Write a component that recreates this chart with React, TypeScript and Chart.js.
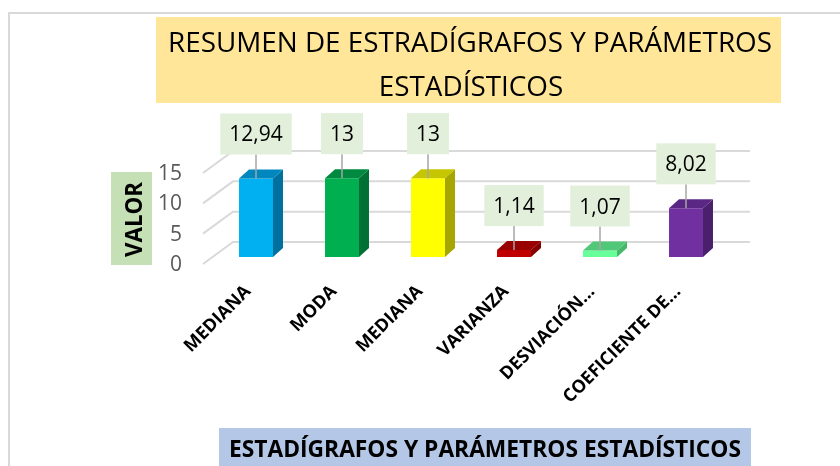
import React, { useEffect, useRef } from "react";
import { Chart, registerables } from "chart.js";

Chart.register(...registerables);

// ---- data ----
const categories = ["MEDIANA", "MODA", "MEDIANA", "VARIANZA", "DESVIACIÓN…", "COEFICIENTE DE…"];
const values = [12.94, 13, 13, 1.14, 1.07, 8.02];
const yTicks = [0, 5, 10, 15];
const titleLines = ["RESUMEN DE ESTRADÍGRAFOS Y PARÁMETROS", "ESTADÍSTICOS"];
const xTitle = "ESTADÍGRAFOS Y PARÁMETROS ESTADÍSTICOS";
const yTitle = "VALOR";

// ---- styles ----
const frontColors = ["#00B0F0", "#00B050", "#FFFF00", "#C00000", "#66FF99", "#7030A0"];
const sideColors = ["#00709E", "#007034", "#A6A600", "#820000", "#45B86A", "#4A1F6B"];
const topColors = ["#0088BE", "#008A3F", "#C6C600", "#990000", "#50C878", "#5A2884"];
const FONT = "'Open Sans', 'Noto Sans', sans-serif";
const DEPTH_X = 10;
const DEPTH_Y = 9;

function fmt(v: number): string {
  return String(v).replace(".", ",");
}

function fitScale(ctx: CanvasRenderingContext2D, text: string, font: string, target: number): number {
  ctx.font = font;
  const w = ctx.measureText(text).width;
  const s = target / w;
  return Math.max(0.8, Math.min(1.2, s));
}

function drawScaled(ctx: CanvasRenderingContext2D, text: string, cx: number, y: number, s: number, font: string) {
  ctx.save();
  ctx.font = font;
  ctx.translate(cx, y);
  ctx.scale(s, 1);
  ctx.textAlign = "center";
  ctx.textBaseline = "alphabetic";
  ctx.fillText(text, 0, 0);
  ctx.restore();
}

const decorPlugin = {
  id: "decor",
  beforeDraw(chart: any) {
    const ctx: CanvasRenderingContext2D = chart.ctx;
    ctx.save();
    ctx.fillStyle = "#ffffff";
    ctx.fillRect(0, 0, chart.width, chart.height);
    // outer frame
    ctx.strokeStyle = "#d9d9d9";
    ctx.lineWidth = 2;
    ctx.strokeRect(9, 13, 1000, 1000);

    // title box
    ctx.fillStyle = "#FFE699";
    ctx.fillRect(156, 17, 625, 86);
    ctx.fillStyle = "#000000";
    const tFont = `28px ${FONT}`;
    const ts = fitScale(ctx, titleLines[0], tFont, 604);
    drawScaled(ctx, titleLines[0], 470, 52, ts, tFont);
    drawScaled(ctx, titleLines[1], 471, 96, ts, tFont);

    // y title
    ctx.fillStyle = "#C5E0B4";
    ctx.fillRect(111, 172, 41, 93);
    ctx.fillStyle = "#000000";
    const yFont = `bold 23px ${FONT}`;
    const ys = fitScale(ctx, yTitle, yFont, 75);
    ctx.save();
    ctx.translate(142, 219.5);
    ctx.rotate(-Math.PI / 2);
    drawScaled(ctx, yTitle, 0, 0, ys, yFont);
    ctx.restore();

    // x title
    ctx.fillStyle = "#B4C7E7";
    ctx.fillRect(219, 428, 532, 50);
    ctx.fillStyle = "#000000";
    const xFont = `bold 24px ${FONT}`;
    const xs = fitScale(ctx, xTitle, xFont, 512);
    drawScaled(ctx, xTitle, 485, 457, xs, xFont);
    ctx.restore();
  },
  beforeDatasetsDraw(chart: any) {
    const ctx: CanvasRenderingContext2D = chart.ctx;
    const y = chart.scales.y;
    const area = chart.chartArea;
    ctx.save();
    ctx.strokeStyle = "#d9d9d9";
    ctx.lineWidth = 2;
    const fx = area.left - 10;
    const bx = area.left + 20;
    const ex = area.right + 21;
    yTicks.forEach((v) => {
      const fy = y.getPixelForValue(v) + 7;
      const by = fy - 22;
      ctx.beginPath();
      ctx.moveTo(fx, fy);
      ctx.lineTo(bx, by);
      ctx.lineTo(ex, by);
      ctx.stroke();
    });
    ctx.restore();
  },
  afterDatasetsDraw(chart: any) {
    const ctx: CanvasRenderingContext2D = chart.ctx;
    const meta = chart.getDatasetMeta(0);
    ctx.save();
    meta.data.forEach((el: any, i: number) => {
      const { x, y, base, width } = el.getProps(["x", "y", "base", "width"], true);
      const l = x - width / 2;
      const r = x + width / 2;
      // side face
      ctx.fillStyle = sideColors[i];
      ctx.beginPath();
      ctx.moveTo(r, y);
      ctx.lineTo(r + DEPTH_X, y - DEPTH_Y);
      ctx.lineTo(r + DEPTH_X, base - DEPTH_Y);
      ctx.lineTo(r, base);
      ctx.closePath();
      ctx.fill();
      // top face
      ctx.fillStyle = topColors[i];
      ctx.beginPath();
      ctx.moveTo(l, y);
      ctx.lineTo(l + DEPTH_X, y - DEPTH_Y);
      ctx.lineTo(r + DEPTH_X, y - DEPTH_Y);
      ctx.lineTo(r, y);
      ctx.closePath();
      ctx.fill();

      // data label
      const text = fmt(values[i]);
      ctx.font = `21px ${FONT}`;
      const tw = ctx.measureText(text).width;
      const bw = tw + 18;
      const bh = 41;
      const boxBottom = y - 24;
      const boxTop = boxBottom - bh;
      ctx.strokeStyle = "#a6a6a6";
      ctx.lineWidth = 1.5;
      ctx.beginPath();
      ctx.moveTo(x, boxBottom);
      ctx.lineTo(x, y);
      ctx.stroke();
      ctx.fillStyle = "#E2EFDA";
      ctx.fillRect(x - bw / 2, boxTop, bw, bh);
      ctx.fillStyle = "#000000";
      ctx.textAlign = "center";
      ctx.textBaseline = "alphabetic";
      ctx.fillText(text, x, boxTop + bh / 2 + 7.5);
    });
    ctx.restore();
  },
};

export default function App() {
  const ref = useRef<HTMLCanvasElement | null>(null);

  useEffect(() => {
    if (!ref.current) return;
    const chart = new Chart(ref.current, {
      type: "bar",
      data: {
        labels: categories,
        datasets: [
          {
            data: values,
            backgroundColor: frontColors,
            borderWidth: 0,
            barPercentage: 0.395,
            categoryPercentage: 1,
          },
        ],
      },
      options: {
        animation: false,
        responsive: false,
        devicePixelRatio: 1,
        layout: { padding: { left: 113, right: 111, top: 166, bottom: 9 } },
        plugins: {
          legend: { display: false },
          title: { display: false },
          tooltip: { enabled: false },
        },
        scales: {
          x: {
            grid: { display: false, drawTicks: false },
            border: { display: false },
            ticks: {
              autoSkip: false,
              minRotation: 45,
              maxRotation: 45,
              padding: 24,
              labelOffset: -8,
              color: "#000000",
              font: { family: FONT, size: 18, weight: "bold" },
            },
            afterFit: (s: any) => {
              s.height = 200;
            },
          },
          y: {
            min: 0,
            max: 15,
            grid: { display: false, drawTicks: false },
            border: { display: false },
            ticks: {
              padding: 31,
              labelOffset: 8,
              color: "#595959",
              font: { family: FONT, size: 21 },
            },
            afterBuildTicks: (s: any) => {
              s.ticks = yTicks.map((v) => ({ value: v }));
            },
            afterFit: (s: any) => {
              s.width = 100;
            },
          },
        },
      },
      plugins: [decorPlugin],
    } as any);
    return () => chart.destroy();
  }, []);

  return (
    <div style={{ position: "fixed", left: 0, top: 0, width: 840, height: 466, overflow: "hidden" }}>
      <canvas ref={ref} width={840} height={466} style={{ display: "block" }} />
    </div>
  );
}
